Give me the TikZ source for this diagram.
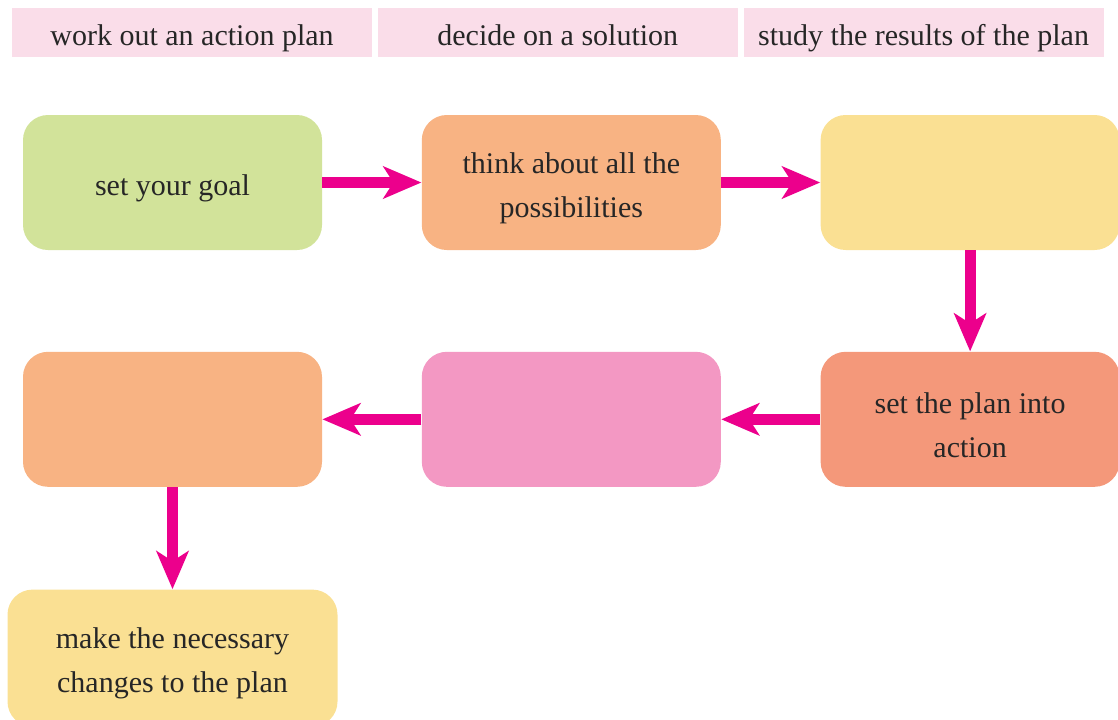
\documentclass[tikz,border=0pt]{standalone}
\usepackage{fontspec}
\setmainfont{Liberation Serif}
\usepackage{xcolor}
\usepackage{tikz}
\usetikzlibrary{arrows.meta,positioning}
\definecolor{hdrpink}{HTML}{FADDE9}
\definecolor{goalgreen}{HTML}{D2E39A}
\definecolor{peach}{HTML}{F8B383}
\definecolor{butter}{HTML}{FAE093}
\definecolor{rosepink}{HTML}{F398C3}
\definecolor{salmon}{HTML}{F4987A}
\definecolor{magenta}{HTML}{EC008C}
\newcommand{\topstrut}{\rule{0pt}{16pt}}

\begin{document}
\begin{tikzpicture}[x=0.5pt,y=-0.5pt,
  hdr/.style={fill=hdrpink,minimum width=180pt,minimum height=24.5pt,inner sep=0pt,
    text height=15.5pt,text depth=3pt,text=black!85,font=\fontsize{15}{18}\selectfont},
  stepbox/.style={rounded corners=12.5pt,minimum width=149.5pt,minimum height=67.5pt,
    inner sep=0pt,align=center,text=black!85,font=\fontsize{15}{22}\selectfont},
  flow/.style={draw=magenta,line width=5.5pt,-{Stealth[length=19pt,width=16pt,inset=5pt]}}]
  \clip (0,0) rectangle (1118,719);
  % header strip
  \node[hdr] (plan) at (192,32.5) {work out an action plan};
  \node[hdr,right=2.5pt of plan] (decide) {decide on a solution};
  \node[hdr,right=2.5pt of decide] (study) {study the results of the plan};
  % flow boxes
  \node[stepbox,fill=goalgreen] (goal) at (172.5,182.5) {\topstrut set your goal};
  \node[stepbox,fill=peach,right=49.5pt of goal] (think) {\topstrut think about all the\\possibilities};
  \node[stepbox,fill=butter,right=49.5pt of think] (blank1) {};
  \node[stepbox,fill=salmon,below=50.5pt of blank1] (action) {\topstrut set the plan into\\action};
  \node[stepbox,fill=rosepink,left=49.5pt of action] (blank2) {};
  \node[stepbox,fill=peach,left=49.5pt of blank2] (blank3) {};
  \node[stepbox,fill=butter,minimum width=165pt,minimum height=68.5pt,below=51pt of blank3] (changes)
    {\topstrut make the necessary\\changes to the plan};
  % arrows
  \draw[flow] (goal.east) -- (think.west);
  \draw[flow] (think.east) -- (blank1.west);
  \draw[flow] (blank1.south) -- (action.north);
  \draw[flow] (action.west) -- (blank2.east);
  \draw[flow] (blank2.west) -- (blank3.east);
  \draw[flow] (blank3.south) -- (changes.north);
\end{tikzpicture}
\end{document}
